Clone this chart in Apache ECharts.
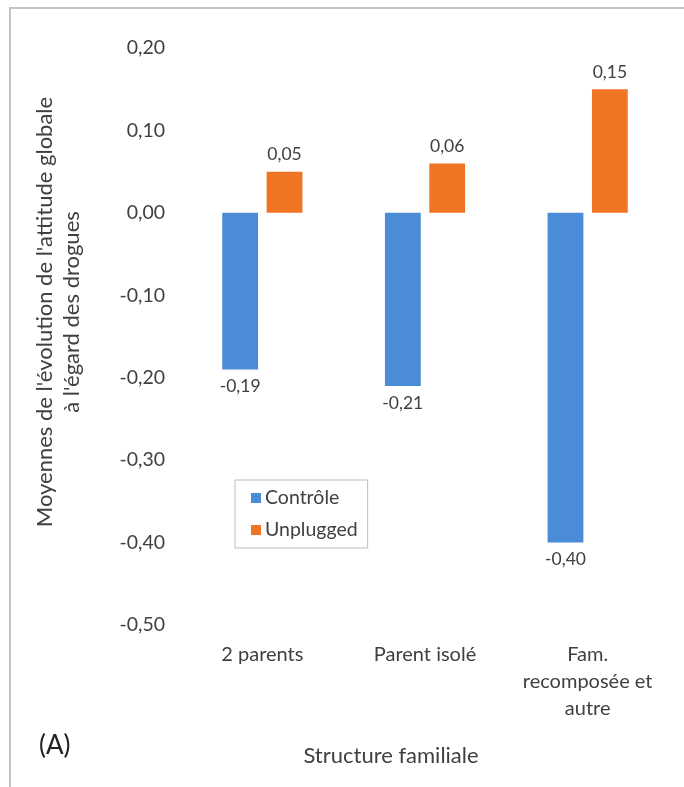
<!DOCTYPE html>
<html>
<head>
<meta charset="utf-8">
<script src="https://cdn.jsdelivr.net/npm/echarts@6/dist/echarts.min.js"></script>
<style>
  html, body { margin: 0; padding: 0; background: #ffffff; }
  #chart { width: 684px; height: 787px; }
</style>
</head>
<body>
<div id="chart"></div>
<script>
// Family structure categories
const categories = ['2 parents', 'Parent isolé', 'Fam.\nrecomposée et\nautre'];
// Mean change in overall attitude towards drugs, per group
const controleValues = [-0.19, -0.21, -0.40];
const unpluggedValues = [0.05, 0.06, 0.15];
// Value axis bounds and step
const yMin = -0.5;
const yMax = 0.2;
const yStep = 0.1;

const FONT = 'Lato, "Open Sans", sans-serif';
const TEXT = '#404040';
const fmt = v => v.toFixed(2).replace('.', ',');

const chart = echarts.init(document.getElementById('chart'), null, { renderer: 'canvas' });

const labelCfg = {
  show: true,
  formatter: p => fmt(p.value),
  fontFamily: FONT,
  fontSize: 17.5,
  color: TEXT,
  distance: 8
};

chart.setOption({
  backgroundColor: '#ffffff',
  animation: false,
  grid: { left: 181, right: 15, top: 48, bottom: 162 },
  legend: {
    orient: 'vertical',
    left: 235,
    top: 480,
    itemWidth: 10,
    itemHeight: 10,
    itemGap: 12,
    padding: [8, 10, 8, 16],
    borderColor: '#bdbdbd',
    borderWidth: 1,
    icon: 'rect',
    textStyle: { fontFamily: FONT, fontSize: 19.5, color: TEXT, padding: [0, 0, 0, -1] },
    data: ['Contrôle', 'Unplugged']
  },
  xAxis: {
    type: 'category',
    data: categories,
    axisLine: { show: false },
    axisTick: { show: false },
    axisLabel: {
      fontFamily: FONT,
      fontSize: 20,
      color: TEXT,
      lineHeight: 27,
      margin: 16,
      interval: 0
    }
  },
  yAxis: {
    type: 'value',
    min: yMin,
    max: yMax,
    interval: yStep,
    axisLine: { show: false },
    axisTick: { show: false },
    splitLine: { show: false },
    axisLabel: {
      fontFamily: FONT,
      fontSize: 19.5,
      color: TEXT,
      margin: 16,
      formatter: v => fmt(v)
    }
  },
  graphic: [
    {
      type: 'rect',
      shape: { x: 10, y: 8, width: 720, height: 820 },
      style: { fill: 'none', stroke: '#c4c4c4', lineWidth: 2 },
      silent: true
    },
    {
      type: 'text',
      x: 58,
      y: 312,
      rotation: Math.PI / 2,
      style: {
        text: "Moyennes de l'évolution de l'attitude globale\nà l'égard des drogues",
        fontFamily: FONT,
        fontSize: 22,
        lineHeight: 27,
        fill: TEXT,
        align: 'center',
        verticalAlign: 'middle'
      }
    },
    {
      type: 'text',
      x: 391,
      y: 756,
      style: {
        text: 'Structure familiale',
        fontFamily: FONT,
        fontSize: 22,
        fill: TEXT,
        align: 'center',
        verticalAlign: 'middle'
      }
    },
    {
      type: 'text',
      x: 39,
      y: 746,
      style: {
        text: '(A)',
        fontFamily: FONT,
        fontSize: 26,
        fill: '#222222',
        align: 'left',
        verticalAlign: 'middle'
      }
    }
  ],
  series: [
    {
      name: 'Contrôle',
      type: 'bar',
      data: controleValues,
      barWidth: '22%',
      barGap: '24%',
      itemStyle: { color: '#4a8cd8' },
      label: Object.assign({ position: 'bottom' }, labelCfg)
    },
    {
      name: 'Unplugged',
      type: 'bar',
      data: unpluggedValues,
      barWidth: '22%',
      itemStyle: { color: '#ef7423' },
      label: Object.assign({ position: 'top' }, labelCfg)
    }
  ]
});
</script>
</body>
</html>
